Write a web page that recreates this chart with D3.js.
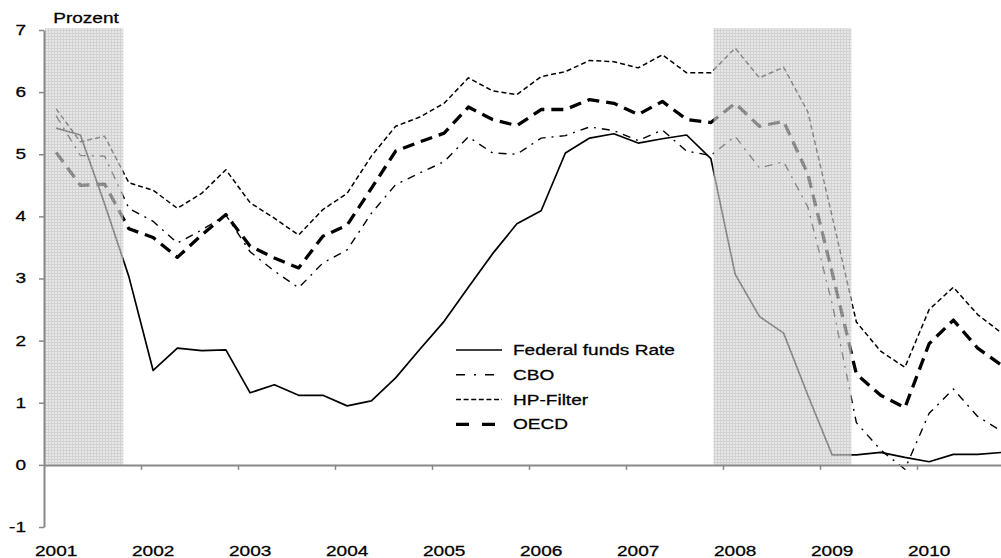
<!DOCTYPE html>
<html><head><meta charset="utf-8">
<script src="https://cdn.jsdelivr.net/npm/d3@7/dist/d3.min.js"></script>
<style>
body{margin:0;background:#fff;}
svg{display:block;font-family:"Liberation Sans",Arial,sans-serif;}
svg text{stroke:#000;stroke-width:0.25px;}
</style>
</head><body>
<svg id="chart" width="1001" height="558"></svg>
<script>
// ---- data ----
const years = ["2001","2002","2003","2004","2005","2006","2007","2008","2009","2010"];
const quarters = years.flatMap(y => ["Q1","Q2","Q3","Q4"].map(q => y + q));
const fedFunds = [5.42,5.31,4.20,3.03, 1.52,1.88,1.84,1.85, 1.16,1.29,1.12,1.12, 0.95,1.03,1.40,1.86,
                  2.31,2.86,3.40,3.88, 4.09,5.02,5.26,5.33, 5.18,5.25,5.31,4.93, 3.07,2.39,2.12,1.12,
                  0.16,0.16,0.20,0.12, 0.05,0.17,0.17,0.20];
const cbo      = [5.62,4.98,4.97,4.13, 3.92,3.57,3.78,4.02, 3.43,3.12,2.85,3.25, 3.46,4.05,4.51,4.70,
                  4.88,5.28,5.02,5.00, 5.26,5.30,5.44,5.38, 5.22,5.39,5.05,4.98, 5.29,4.78,4.88,4.15,
                  2.60,0.68,0.24,-0.07, 0.83,1.22,0.78,0.54];
const hpFilter = [5.73,5.20,5.29,4.54, 4.42,4.13,4.37,4.75, 4.22,3.97,3.70,4.11, 4.37,4.97,5.45,5.60,
                  5.82,6.23,6.02,5.96, 6.25,6.33,6.51,6.49, 6.39,6.60,6.31,6.31, 6.71,6.23,6.40,5.68,
                  4.00,2.30,1.83,1.57, 2.50,2.86,2.42,2.12];
const oecd     = [5.03,4.50,4.52,3.80, 3.66,3.34,3.70,4.03, 3.52,3.33,3.17,3.68, 3.86,4.45,5.05,5.20,
                  5.34,5.76,5.56,5.46, 5.72,5.72,5.88,5.82, 5.64,5.85,5.56,5.51, 5.82,5.45,5.53,4.68,
                  3.10,1.46,1.12,0.92, 1.95,2.33,1.88,1.60];
const seriesNames = ["Federal funds Rate","CBO","HP-Filter","OECD"];
const yTicks = [-1,0,1,2,3,4,5,6,7];
// recession periods, in quarters counted from start of 2001
const recessions = [[0,3.27],[27.57,33.3]];
const yLabel = "Prozent";

// ---- styles ----
const styles = {
  "Federal funds Rate": {w:1.7, dash:null, legDash:null},
  "CBO":               {w:1.4, dash:"8,6,2,6", legDash:"9,9,2,9"},
  "HP-Filter":         {w:1.5, dash:"5,3", legDash:"5,2.6"},
  "OECD":              {w:3.3, dash:"12,7", legDash:"13,13"}
};
const SX = 1.36; // horizontal text stretch of the original

const svg = d3.select("#chart");
const x = d3.scaleLinear().domain([0, 40]).range([44, 1014]);
const y = d3.scaleLinear().domain([-1, 7]).range([527, 30]);

// pattern for recession shading
const defs = svg.append("defs");
const pat = defs.append("pattern").attr("id","grid").attr("patternUnits","userSpaceOnUse")
  .attr("width",3).attr("height",3);
pat.append("rect").attr("width",3).attr("height",3).attr("fill","#dcdcdc");
pat.append("path").attr("d","M0,0.5H3M0.5,0V3").attr("stroke","#bdbdbd").attr("stroke-width",1);

// ---- lines ----
const data = [fedFunds, cbo, hpFilter, oecd];
const line = d3.line().x((d,i) => x(i + 0.5)).y(d => y(d));
const gLines = svg.append("g");
seriesNames.forEach((name, k) => {
  const s = styles[name];
  gLines.append("path").datum(data[k])
    .attr("d", line)
    .attr("fill","none").attr("stroke","#000")
    .attr("stroke-width", s.w)
    .attr("stroke-dasharray", s.dash)
    .attr("stroke-linejoin","round");
});

// ---- shading (over the lines, like the original) ----
svg.append("g").selectAll("rect").data(recessions).join("rect")
  .attr("x", d => x(d[0]) + 1)
  .attr("width", d => x(d[1]) - x(d[0]) - 1)
  .attr("y", y(7) - 2)
  .attr("height", y(0) - y(7) + 2)
  .attr("fill","url(#grid)")
  .attr("opacity",0.68);

function stretch(sel){
  sel.each(function(){
    const t = d3.select(this);
    const xx = +t.attr("x") || 0;
    t.attr("x", xx / SX).attr("transform", `scale(${SX},1)`);
  });
}

// ---- y axis ----
const yAxis = svg.append("g").attr("transform","translate(44,0)")
  .call(d3.axisLeft(y).tickValues(yTicks).tickSize(5).tickSizeOuter(0).tickPadding(13).tickFormat(d => String(d)));
yAxis.select(".domain").attr("stroke","#888").attr("stroke-width",2);
yAxis.selectAll(".tick line").attr("stroke","#888").attr("stroke-width",1.5);
yAxis.selectAll("text").attr("font-size",14).attr("fill","#000").attr("font-family","Liberation Sans, Arial, sans-serif");
stretch(yAxis.selectAll("text"));

// ---- x axis (at zero) ----
const xAxis = svg.append("g").attr("transform",`translate(0,${y(0)})`)
  .call(d3.axisBottom(x).tickValues(years.map((_,i) => (i+1)*4)).tickSize(5).tickSizeOuter(0).tickFormat(""));
xAxis.select(".domain").attr("stroke","#888").attr("stroke-width",2);
xAxis.selectAll(".tick line").attr("stroke","#888").attr("stroke-width",1.5);

// year labels
const gYears = svg.append("g");
years.forEach((yr,i) => {
  const g = gYears.append("g").attr("transform",`translate(${x(quarters.indexOf(yr+"Q1") + 0.5)},555.5)`);
  g.append("text").attr("text-anchor","middle").attr("font-size",14).attr("fill","#000")
    .attr("transform",`scale(${SX},1)`).text(yr);
});

// y label
svg.append("g").attr("transform","translate(86,23)")
  .append("text").attr("text-anchor","middle").attr("font-size",14).attr("fill","#000")
  .attr("transform",`scale(${SX},1)`).text(yLabel);

// ---- legend ----
const leg = svg.append("g").attr("transform","translate(456,350)");
seriesNames.forEach((name,k) => {
  const s = styles[name];
  const g = leg.append("g").attr("transform",`translate(0,${k*24.8})`);
  g.append("line").attr("x1",0).attr("x2",46).attr("y1",0).attr("y2",0)
    .attr("stroke","#000").attr("stroke-width", s.w).attr("stroke-dasharray", s.legDash);
  g.append("g").attr("transform","translate(57,0)")
    .append("text").attr("font-size",14).attr("dy","0.35em").attr("fill","#000")
    .attr("transform",`scale(${SX},1)`).text(name);
});
</script>
</body></html>
